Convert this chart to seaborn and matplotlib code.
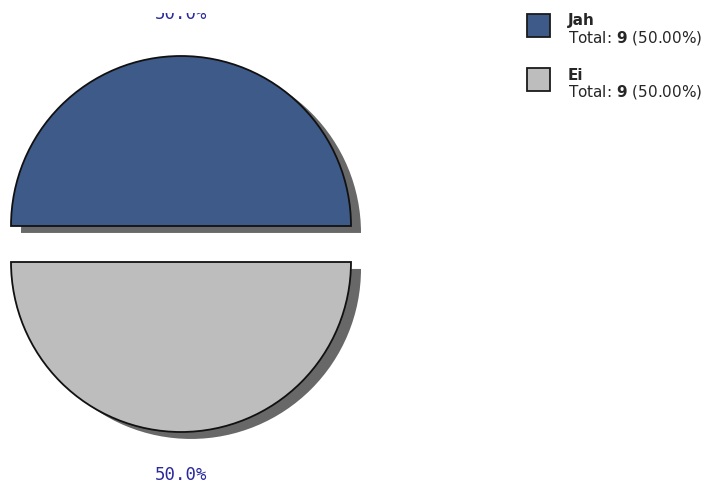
import matplotlib
matplotlib.use("Agg")
import matplotlib.pyplot as plt
import seaborn as sns
from matplotlib.patches import Rectangle
from matplotlib.transforms import Bbox, TransformedBbox

# Dados do gráfico
categorias = ["Jah", "Ei"]
totais = [9, 9]
cores = ["#3d5a89", "#bdbdbd"]

sns.set_style("white")
plt.rcParams["font.family"] = ["DejaVu Sans"]

W, H = 711, 484
fig = plt.figure(figsize=(W / 100, H / 100), dpi=100)
ax = fig.add_axes([0, 0, 1, 1])

pal = sns.color_palette(cores)
wedges, _, autotexts = ax.pie(
    totais,
    colors=pal,
    startangle=0,
    counterclock=True,
    center=(181, H - 244),
    radius=170,
    explode=[18, 18],  # em unidades de dados (pixels)
    autopct="%1.1f%%",
    pctdistance=1.25,
    shadow={"ox": 7.2, "oy": -5.0, "facecolor": "#686868", "edgecolor": "none", "alpha": 1},
    wedgeprops={"edgecolor": "#111111", "linewidth": 1.3},
    textprops={"color": "#2a2a9c", "fontsize": 12.5, "family": "DejaVu Sans Mono"},
    frame=True,
)
ax.axis("off")
ax.set_xlim(0, W)
ax.set_ylim(0, H)
ax.set_aspect("equal")

# rótulo de cima aparece cortado na referência
corte = TransformedBbox(Bbox([[0, 0], [W, H - 12.5]]), ax.transData)
autotexts[0].set_clip_box(corte)
autotexts[0].set_clip_on(True)

# Legenda
y0 = 14
for i, (nome, total) in enumerate(zip(categorias, totais)):
    y = y0 + i * 54
    pct = 100 * total / sum(totais)
    ax.add_patch(Rectangle((527, H - y - 23), 23, 23, facecolor=pal[i],
                           edgecolor="#1a1a1a", linewidth=1.3))
    ax.text(568, H - y - 7, nome, fontsize=11, fontweight="bold", va="center", ha="left")
    ax.text(568, H - y - 24, "Total: $\\mathbf{%d}$ (%.2f%%)" % (total, pct),
            fontsize=11, va="center", ha="left")

fig.savefig("out.png", dpi=100)
